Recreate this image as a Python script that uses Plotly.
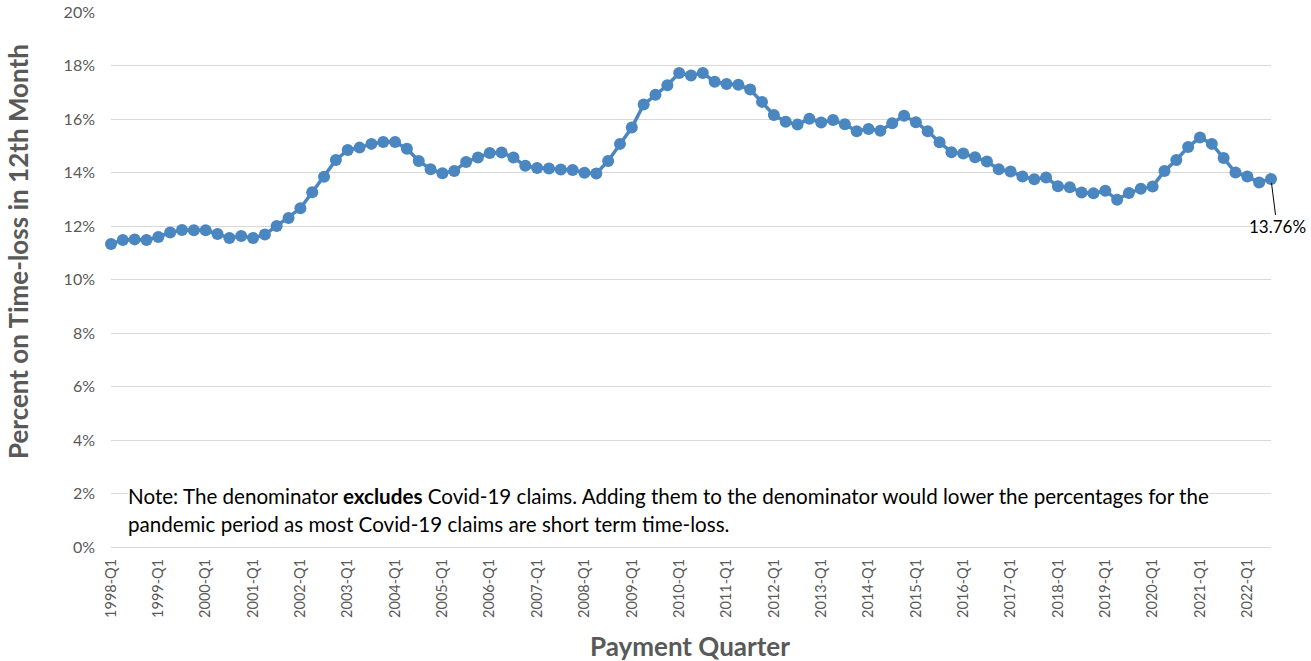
import plotly.graph_objects as go

# Quarterly payment periods, 1998-Q1 through 2022-Q3
quarters = [f"{y}-Q{q}" for y in range(1998, 2023) for q in range(1, 5)][:99]

# Percent of claims still on time-loss in the 12th month
pct_time_loss = [
    11.33, 11.48, 11.50, 11.48, 11.59, 11.76, 11.85, 11.84, 11.84, 11.70,
    11.55, 11.63, 11.55, 11.68, 12.00, 12.30, 12.66, 13.26, 13.84, 14.47,
    14.84, 14.93, 15.07, 15.14, 15.14, 14.89, 14.43, 14.12, 13.97, 14.06,
    14.39, 14.56, 14.73, 14.75, 14.56, 14.25, 14.17, 14.15, 14.11, 14.09,
    13.99, 13.96, 14.43, 15.07, 15.68, 16.54, 16.91, 17.26, 17.72, 17.63,
    17.72, 17.39, 17.31, 17.28, 17.10, 16.64, 16.15, 15.90, 15.79, 16.01,
    15.87, 15.96, 15.80, 15.54, 15.63, 15.56, 15.84, 16.12, 15.88, 15.54,
    15.13, 14.76, 14.71, 14.57, 14.41, 14.12, 14.04, 13.85, 13.75, 13.81,
    13.49, 13.45, 13.25, 13.22, 13.32, 12.98, 13.23, 13.39, 13.48, 14.06,
    14.47, 14.95, 15.31, 15.07, 14.54, 14.00, 13.85, 13.63, 13.76,
]

year_ticks = [q for q in quarters if q.endswith("Q1")]
y_ticks = list(range(0, 21, 2))

# Figure geometry (pixels)
W, H = 1311, 661
ML, MR, MT, MB = 111, 40, 12, 114
PW, PH = W - ML - MR, H - MT - MB


def px_x(px):
    return (px - ML) / PW


def px_y(py):
    return (H - MB - py) / PH


FONT = "Lato"
GREY = "#595959"
BLUE = "#4A86C0"

fig = go.Figure()
fig.add_trace(go.Scatter(
    x=quarters,
    y=pct_time_loss,
    mode="lines+markers",
    line=dict(color=BLUE, width=3.5),
    marker=dict(color=BLUE, size=12),
    cliponaxis=False,
    hovertemplate="%{x}: %{y:.2f}%<extra></extra>",
))

# Label for the most recent quarter
last_q, last_v = quarters[-1], pct_time_loss[-1]
fig.add_annotation(
    x=last_q, y=last_v, xref="x", yref="y",
    text=f"{last_v:.2f}%",
    showarrow=True, arrowhead=0, arrowwidth=1, arrowcolor="#000000",
    ax=6, ay=48, standoff=4,
    font=dict(family=FONT, size=17, color="#000000"),
)

# Note about the denominator
note_lines = [
    "Note: The denominator <b>excludes</b> Covid-19 claims. Adding them to the denominator would lower the percentages for the",
    "pandemic period as most Covid-19 claims are short term time-loss.",
]
for i, line in enumerate(note_lines):
    fig.add_annotation(
        x=px_x(127), y=px_y(496 + 28 * i), xref="paper", yref="paper",
        xanchor="left", yanchor="middle",
        text=line, showarrow=False,
        bgcolor="#FFFFFF", borderpad=0,
        font=dict(family=FONT, size=20.6, color="#000000"),
    )

# Axis titles
fig.add_annotation(
    x=px_x(18), y=px_y(252), xref="paper", yref="paper",
    xanchor="center", yanchor="middle", textangle=-90,
    text="<b>Percent on Time-loss in 12th Month</b>", showarrow=False,
    font=dict(family=FONT, size=26, color=GREY),
)
fig.add_annotation(
    x=px_x(690), y=px_y(646), xref="paper", yref="paper",
    xanchor="center", yanchor="middle",
    text="<b>Payment Quarter</b>", showarrow=False,
    font=dict(family=FONT, size=26, color=GREY),
)

fig.update_layout(
    width=W, height=H,
    margin=dict(l=ML, r=MR, t=MT, b=MB, autoexpand=False),
    paper_bgcolor="#FFFFFF", plot_bgcolor="#FFFFFF",
    showlegend=False,
    font=dict(family=FONT, color=GREY),
)
fig.update_xaxes(
    type="category", automargin=False,
    categoryorder="array", categoryarray=quarters,
    range=[0, len(quarters) - 1],
    tickmode="array", tickvals=year_ticks, ticktext=year_ticks,
    tickangle=-90, tickfont=dict(family=FONT, size=14.5, color=GREY),
    ticklabelstandoff=8,
    showgrid=False, showline=False, ticks="",
)
fig.update_yaxes(
    range=[0, 20], automargin=False,
    tickmode="array", tickvals=y_ticks, ticktext=[f"{v}%" for v in y_ticks],
    tickfont=dict(family=FONT, size=16, color=GREY),
    ticklabelstandoff=15,
    showgrid=True, gridcolor="#D9D9D9", gridwidth=1.3,
    zeroline=True, zerolinecolor="#D9D9D9", zerolinewidth=1.3,
    showline=False, ticks="",
)

fig.write_html("out.html")
